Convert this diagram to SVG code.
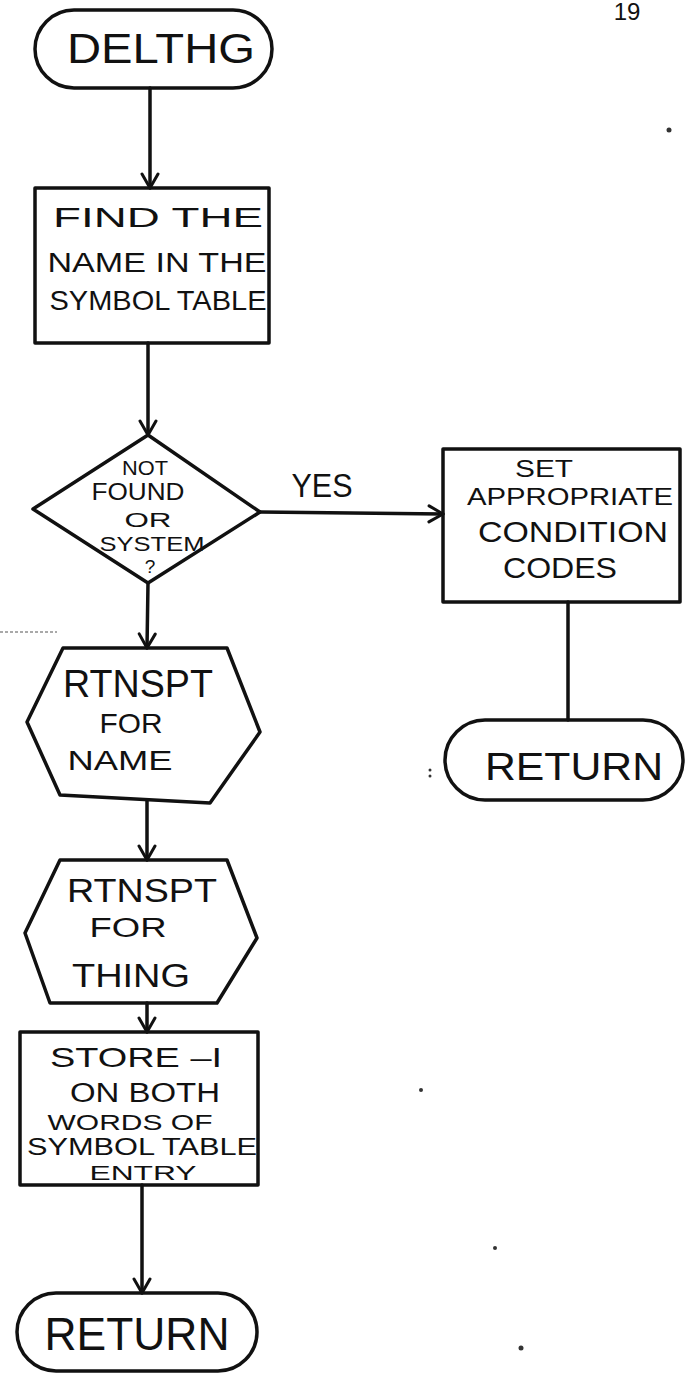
<svg xmlns="http://www.w3.org/2000/svg" width="687" height="1374" viewBox="0 0 687 1374">
  <style>
    .shape { fill: none; stroke: #111; stroke-width: 3.5; stroke-linejoin: round; stroke-linecap: round; }
    .wire { fill: none; stroke: #111; stroke-width: 3.5; stroke-linecap: round; }
    .lbl { font-family: "Liberation Sans", "DejaVu Sans", sans-serif; fill: #111; text-anchor: middle; }
    .speck { fill: #333; }
  </style>
  <defs>
    <!-- open V arrowhead, drawn along +x -->
    <marker id="vhead" viewBox="0 0 20 20" refX="18" refY="10" markerWidth="20" markerHeight="20" markerUnits="userSpaceOnUse" orient="auto">
      <path d="M4,2 L18,10 L4,18" fill="none" stroke="#111" stroke-width="3" stroke-linecap="round" stroke-linejoin="round"/>
    </marker>
  </defs>

  <rect width="687" height="1374" fill="#fff"/>

  <!-- page number -->
  <text class="lbl" x="627" y="20" font-size="24">19</text>

  <!-- connectors -->
  <g id="connectors">
    <line class="wire" x1="150" y1="88" x2="150" y2="188" marker-end="url(#vhead)"/>
    <line class="wire" x1="148" y1="343" x2="148" y2="435" marker-end="url(#vhead)"/>
    <line class="wire" x1="260" y1="512" x2="443" y2="514" marker-end="url(#vhead)"/>
    <line class="wire" x1="148" y1="583" x2="147" y2="648" marker-end="url(#vhead)"/>
    <line class="wire" x1="568" y1="602" x2="568" y2="720"/>
    <line class="wire" x1="147" y1="800" x2="147" y2="860" marker-end="url(#vhead)"/>
    <line class="wire" x1="147" y1="1003" x2="147" y2="1032" marker-end="url(#vhead)"/>
    <line class="wire" x1="142" y1="1185" x2="142" y2="1293" marker-end="url(#vhead)"/>
    <text class="lbl" x="322" y="497" font-size="33" textLength="61" lengthAdjust="spacingAndGlyphs">YES</text>
  </g>

  <g id="start">
    <rect class="shape" x="35" y="10" width="237" height="78" rx="39"/>
    <text class="lbl" x="161" y="63" font-size="43" textLength="188" lengthAdjust="spacingAndGlyphs">DELTHG</text>
  </g>

  <g id="find">
    <rect class="shape" x="35" y="188" width="234" height="155"/>
    <text class="lbl" x="158" y="227" font-size="27" textLength="210" lengthAdjust="spacingAndGlyphs">FIND  THE</text>
    <text class="lbl" x="157" y="272" font-size="28" textLength="219" lengthAdjust="spacingAndGlyphs">NAME IN THE</text>
    <text class="lbl" x="158" y="310" font-size="28" textLength="217" lengthAdjust="spacingAndGlyphs">SYMBOL TABLE</text>
  </g>

  <g id="decision">
    <polygon class="shape" points="148,435 260,512 148,583 33,509"/>
    <text class="lbl" x="145" y="475" font-size="20" textLength="46" lengthAdjust="spacingAndGlyphs">NOT</text>
    <text class="lbl" x="138" y="500" font-size="24" textLength="93" lengthAdjust="spacingAndGlyphs">FOUND</text>
    <text class="lbl" x="148" y="527" font-size="21" textLength="47" lengthAdjust="spacingAndGlyphs">OR</text>
    <text class="lbl" x="152" y="551" font-size="21" textLength="105" lengthAdjust="spacingAndGlyphs">SYSTEM</text>
    <text class="lbl" x="150" y="573" font-size="19">?</text>
  </g>

  <g id="setcodes">
    <rect class="shape" x="443" y="449" width="237" height="153"/>
    <text class="lbl" x="544" y="477" font-size="24" textLength="58" lengthAdjust="spacingAndGlyphs">SET</text>
    <text class="lbl" x="570" y="505" font-size="24" textLength="206" lengthAdjust="spacingAndGlyphs">APPROPRIATE</text>
    <text class="lbl" x="573" y="542" font-size="30" textLength="190" lengthAdjust="spacingAndGlyphs">CONDITION</text>
    <text class="lbl" x="560" y="578" font-size="29" textLength="114" lengthAdjust="spacingAndGlyphs">CODES</text>
  </g>

  <g id="return-right">
    <rect class="shape" x="445" y="720" width="238" height="80" rx="40"/>
    <text class="lbl" x="574" y="780" font-size="39" textLength="178" lengthAdjust="spacingAndGlyphs">RETURN</text>
  </g>

  <g id="rtnspt-name">
    <polygon class="shape" points="63,648 227,648 260,732 210,803 60,795 27,722"/>
    <text class="lbl" x="138" y="697" font-size="38" textLength="150" lengthAdjust="spacingAndGlyphs">RTNSPT</text>
    <text class="lbl" x="131" y="733" font-size="28" textLength="63" lengthAdjust="spacingAndGlyphs">FOR</text>
    <text class="lbl" x="120" y="770" font-size="28" textLength="105" lengthAdjust="spacingAndGlyphs">NAME</text>
  </g>

  <g id="rtnspt-thing">
    <polygon class="shape" points="60,860 227,860 257,938 217,1003 50,1003 25,933"/>
    <text class="lbl" x="142" y="902" font-size="33" textLength="150" lengthAdjust="spacingAndGlyphs">RTNSPT</text>
    <text class="lbl" x="128" y="937" font-size="27" textLength="77" lengthAdjust="spacingAndGlyphs">FOR</text>
    <text class="lbl" x="131" y="987" font-size="33" textLength="118" lengthAdjust="spacingAndGlyphs">THING</text>
  </g>

  <g id="store">
    <rect class="shape" x="20" y="1032" width="238" height="153"/>
    <text class="lbl" x="136" y="1067" font-size="28" textLength="172" lengthAdjust="spacingAndGlyphs">STORE –I</text>
    <text class="lbl" x="145" y="1102" font-size="27" textLength="150" lengthAdjust="spacingAndGlyphs">ON BOTH</text>
    <text class="lbl" x="130" y="1130" font-size="22" textLength="165" lengthAdjust="spacingAndGlyphs">WORDS OF</text>
    <text class="lbl" x="142" y="1155" font-size="23" textLength="230" lengthAdjust="spacingAndGlyphs">SYMBOL TABLE</text>
    <text class="lbl" x="143" y="1180" font-size="20" textLength="107" lengthAdjust="spacingAndGlyphs">ENTRY</text>
  </g>

  <g id="return-end">
    <rect class="shape" x="17" y="1293" width="240" height="78" rx="39"/>
    <text class="lbl" x="137" y="1350" font-size="46" textLength="185" lengthAdjust="spacingAndGlyphs">RETURN</text>
  </g>

  <!-- stray marks on the sheet -->
  <g id="marks">
    <line x1="0" y1="632" x2="57" y2="632" stroke="#555" stroke-width="1.2" stroke-dasharray="3 2"/>
    <circle class="speck" cx="669" cy="130" r="2.5"/>
    <circle class="speck" cx="421" cy="1090" r="2"/>
    <circle class="speck" cx="495" cy="1248" r="2"/>
    <circle class="speck" cx="521" cy="1348" r="2.5"/>
    <circle class="speck" cx="430" cy="770" r="1.5"/>
    <circle class="speck" cx="430" cy="776" r="1.5"/>
  </g>
</svg>
